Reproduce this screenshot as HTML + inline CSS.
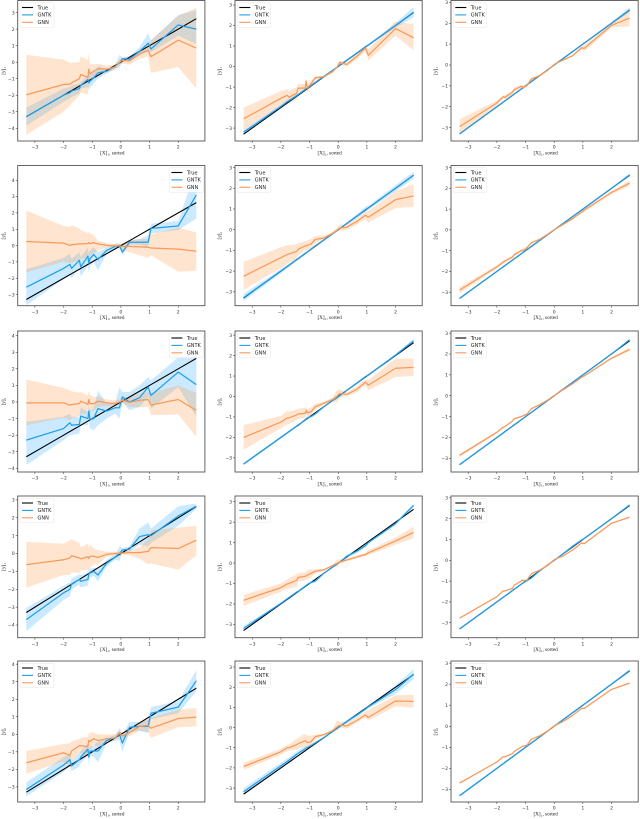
<!DOCTYPE html>
<html lang="en">
<head>
<meta charset="utf-8">
<title>GNTK vs GNN predictions</title>
<style>
html,body{margin:0;padding:0;background:#fff;}
#figure{position:absolute;left:0;top:0;width:640px;height:819px;display:block;filter:blur(0.25px);}
</style>
</head>
<body>
<svg id="figure" xmlns="http://www.w3.org/2000/svg" width="640" height="819" viewBox="0 0 640 819"></svg>
<script>
const xKnots = [-3.3,-2,-1.78,-1.72,-1.45,-1.4,-1.15,-1.12,-1.08,-0.95,-0.8,-0.5,-0.2,-0.05,0.05,0.3,0.65,0.95,1.05,2,2.63];
const trueValues = [-3.3,-2,-1.78,-1.72,-1.45,-1.4,-1.15,-1.12,-1.08,-0.95,-0.8,-0.5,-0.2,-0.05,0.05,0.3,0.65,0.95,1.05,2,2.63];
const xTickValues = [-3,-2,-1,0,1,2];
const yTickValues = [-4,-3,-2,-1,0,1,2,3,4];
const legendLabels = ["True","GNTK","GNN"];
const xMin = -3.6;
const xMax = 2.93;
const yMinByPanel = [[-4.77,-3.63,-3.64],[-3.68,-3.67,-3.65],[-4.22,-3.69,-3.65],[-4.71,-3.65,-3.72],[-3.86,-3.69,-3.6]];
const yMaxByPanel = [[3.73,3.22,3.09],[4.9,3.1,3.1],[4.28,3.2,3.1],[3.22,3.28,3.09],[4.18,3.3,3.1]];

/* Row 1 */
const gnnMean11 = [-1.97,-1.35,-1.33,-1.25,-1,-0.75,-0.92,-0.42,-0.7,-0.55,-0.4,-0.42,-0.3,0,0.1,0.08,0.5,0.72,0.33,1.33,0.85];
const gnnHigh11 = [0.45,0.15,-0.05,-0.03,0,0.35,0.1,0.55,-0.1,-0.15,-0.1,-0.2,-0.15,0.15,0.3,0.3,0.75,1.1,1.35,2.8,3.3];
const gnnLow11 = [-4.4,-3,-2.65,-2.5,-2,-1.85,-1.95,-1.4,-1.3,-1,-0.7,-0.65,-0.45,-0.15,-0.1,-0.15,0.2,0.35,-0.65,-0.3,-1.6];
const gntkMean11 = [-3.3,-2,-1.85,-1.75,-1.6,-1.4,-1.05,-1.25,-1.15,-0.95,-0.65,-0.55,-0.25,-0.05,0.2,0.18,0.65,1.15,0.8,2.25,2];
const gntkHigh11 = [-2.75,-1.6,-1.5,-1.4,-1.3,-1.2,-0.8,-0.75,-0.75,-0.6,-0.25,-0.4,-0.15,0.45,0.3,0.35,0.9,1.75,1.3,2.85,3.15];
const gntkLow11 = [-3.85,-2.4,-2.2,-2.1,-1.9,-1.6,-1.5,-1.65,-1.55,-1.3,-1,-0.7,-0.4,-0.35,0.1,0.05,0.4,0.7,0.6,1.6,1.1];

const gnnMean12 = [-2.55,-1.55,-1.4,-1.5,-1.3,-1.05,-1.05,-0.7,-1.05,-0.85,-0.55,-0.5,-0.25,-0.05,0.2,0.1,0.5,0.9,0.55,1.85,1.4];
const gnnHigh12 = [-2,-1.2,-1.1,-1.2,-1,-0.85,-0.85,-0.55,-0.85,-0.7,-0.45,-0.45,-0.2,0,0.3,0.2,0.65,1.05,0.85,2.2,2.05];
const gnnLow12 = [-3.1,-1.9,-1.7,-1.8,-1.6,-1.25,-1.25,-0.85,-1.25,-1,-0.65,-0.55,-0.3,-0.1,0.1,0,0.35,0.75,0.3,1.5,0.8];
const gntkMean12 = [-3.2,-1.95,-1.72,-1.67,-1.42,-1.37,-1.12,-1.09,-1.05,-0.93,-0.78,-0.48,-0.19,-0.04,0.06,0.31,0.66,0.96,1.05,2,2.65];
const gntkHigh12 = [-3.1,-1.85,-1.62,-1.57,-1.35,-1.3,-1.05,-1.02,-0.98,-0.86,-0.73,-0.44,-0.16,-0.01,0.09,0.34,0.7,1,1.1,2.12,2.9];
const gntkLow12 = [-3.3,-2.05,-1.82,-1.77,-1.5,-1.45,-1.2,-1.16,-1.12,-1,-0.83,-0.52,-0.22,-0.07,0.03,0.28,0.62,0.92,1,1.9,2.4];

const gnnMean13 = [-2.95,-1.82,-1.52,-1.55,-1.3,-1.18,-1.02,-1.02,-1.08,-0.98,-0.68,-0.5,-0.22,-0.03,0.07,0.23,0.45,0.82,0.8,1.9,2.25];
const gnnHigh13 = [-2.6,-1.7,-1.45,-1.45,-1.2,-1.08,-0.95,-0.93,-1,-0.9,-0.6,-0.45,-0.18,0,0.1,0.27,0.5,0.9,0.95,2,2.65];
const gnnLow13 = [-3.3,-1.94,-1.6,-1.65,-1.4,-1.28,-1.1,-1.1,-1.16,-1.06,-0.76,-0.55,-0.26,-0.06,0.04,0.19,0.4,0.74,0.65,1.8,1.85];
const gntkMean13 = [-3.3,-2,-1.78,-1.72,-1.45,-1.4,-1.15,-1.12,-1.08,-0.95,-0.8,-0.5,-0.2,-0.05,0.05,0.3,0.65,0.95,1.05,2,2.65];
const gntkHigh13 = [-3.27,-1.97,-1.75,-1.69,-1.42,-1.37,-1.12,-1.09,-1.05,-0.92,-0.77,-0.47,-0.18,-0.03,0.07,0.32,0.67,0.98,1.08,2.05,2.78];
const gntkLow13 = [-3.33,-2.03,-1.81,-1.75,-1.48,-1.43,-1.18,-1.15,-1.11,-0.98,-0.83,-0.53,-0.22,-0.07,0.03,0.28,0.63,0.92,1.02,1.95,2.52];

/* Row 2 */
const gnnMean21 = [0.25,0.15,0,0.05,0.1,0.1,0.12,0.18,0.12,0.18,0.1,0.02,-0.02,-0.02,-0.05,-0.05,-0.08,-0.1,-0.15,-0.22,-0.35];
const gnnHigh21 = [2.15,1.2,1.15,1.25,1.05,0.95,0.75,0.85,0.75,0.65,0.3,0.15,0.1,0.1,0.15,0.35,0.4,0.4,0.7,1.1,0.8];
const gnnLow21 = [-1.65,-1,-1.1,-1.05,-0.9,-0.8,-0.75,-0.6,-0.6,-0.5,-0.3,-0.1,-0.1,-0.15,-0.3,-0.4,-0.6,-0.75,-0.6,-1.6,-1.55];
const gntkMean21 = [-2.55,-1.4,-1.15,-1.4,-0.9,-1.3,-0.65,-1.1,-0.8,-0.55,-0.85,-0.3,-0.05,0,-0.4,0.2,0.2,0.2,1.05,1.2,3.1];
const gntkHigh21 = [-1.45,-0.75,-0.5,-0.8,-0.4,-0.7,-0.1,-0.5,-0.3,-0.1,-0.4,-0.1,0.1,0.15,0,0.3,0.4,0.6,1.35,1.5,4.7];
const gntkLow21 = [-3.65,-2.05,-1.8,-2,-1.4,-1.9,-1.2,-1.7,-1.3,-1,-1.5,-0.5,-0.2,-0.15,-0.6,0.05,0.05,-0.1,0.75,0.95,1.65];

const gnnMean22 = [-2.25,-1.35,-1.2,-1.17,-1.05,-0.95,-0.78,-0.78,-0.75,-0.7,-0.47,-0.4,-0.18,-0.03,0.08,0.12,0.4,0.7,0.6,1.45,1.63];
const gnnHigh22 = [-1.55,-0.85,-0.75,-0.75,-0.7,-0.65,-0.55,-0.55,-0.52,-0.45,-0.3,-0.3,-0.1,0.08,0.25,0.25,0.55,0.85,0.9,1.85,2.2];
const gnnLow22 = [-2.9,-1.85,-1.65,-1.6,-1.4,-1.25,-1,-1,-0.98,-0.95,-0.65,-0.5,-0.25,-0.12,-0.05,0,0.25,0.5,0.35,1.05,1.1];
const gntkMean22 = [-3.28,-2,-1.78,-1.72,-1.45,-1.4,-1.14,-1.12,-1.08,-0.95,-0.78,-0.5,-0.2,-0.05,0.05,0.3,0.65,0.97,1.05,2,2.63];
const gntkHigh22 = [-3.1,-1.9,-1.7,-1.64,-1.38,-1.33,-1.08,-1.06,-1.03,-0.9,-0.74,-0.47,-0.18,-0.03,0.08,0.35,0.75,1.1,1.15,2.15,2.8];
const gntkLow22 = [-3.45,-2.1,-1.86,-1.8,-1.52,-1.47,-1.2,-1.18,-1.13,-1,-0.82,-0.53,-0.22,-0.07,0.02,0.25,0.55,0.85,0.95,1.85,2.45];

const gnnMean23 = [-2.9,-1.78,-1.55,-1.5,-1.3,-1.2,-1,-0.98,-1,-0.85,-0.62,-0.45,-0.18,-0.04,0.05,0.25,0.55,0.85,0.95,1.8,2.25];
const gnnHigh23 = [-2.75,-1.7,-1.47,-1.42,-1.22,-1.12,-0.94,-0.92,-0.94,-0.8,-0.58,-0.42,-0.16,-0.02,0.07,0.28,0.6,0.9,1.02,1.88,2.38];
const gnnLow23 = [-3.05,-1.86,-1.63,-1.58,-1.38,-1.28,-1.06,-1.04,-1.06,-0.9,-0.66,-0.48,-0.2,-0.06,0.03,0.22,0.5,0.8,0.88,1.72,2.12];
const gntkMean23 = [-3.3,-2,-1.78,-1.72,-1.45,-1.4,-1.15,-1.12,-1.08,-0.95,-0.8,-0.5,-0.2,-0.05,0.05,0.3,0.65,0.95,1.05,2,2.65];
const gntkHigh23 = [-3.27,-1.97,-1.75,-1.69,-1.42,-1.37,-1.12,-1.09,-1.05,-0.92,-0.77,-0.47,-0.18,-0.03,0.07,0.32,0.67,0.98,1.08,2.04,2.72];
const gntkLow23 = [-3.33,-2.03,-1.81,-1.75,-1.48,-1.43,-1.18,-1.15,-1.11,-0.98,-0.83,-0.53,-0.22,-0.07,0.03,0.28,0.63,0.92,1.02,1.96,2.58];

/* Row 3 */
const gnnMean31 = [-0.05,-0.05,-0.2,-0.15,-0.1,0.05,-0.15,0.15,-0.1,-0.1,0.05,-0.05,-0.1,0,0.1,-0.02,0.1,0.15,-0.18,0.15,-0.5];
const gnnHigh31 = [1.35,0.85,0.7,0.65,0.55,0.6,0.4,0.7,0.45,0.3,0.35,0.15,0.1,0.15,0.35,0.3,0.5,0.6,0.55,1,0.55];
const gnnLow31 = [-1.4,-0.95,-1.1,-1,-0.85,-0.7,-0.7,-0.4,-0.6,-0.5,-0.3,-0.25,-0.3,-0.2,-0.1,-0.3,-0.3,-0.3,-0.8,-0.75,-2.1];
const gntkMean31 = [-2.3,-1.6,-1.25,-1.4,-1.35,-0.85,-1,-0.55,-1.05,-1,-0.4,-0.55,-0.35,-0.35,0.3,0,0.25,0.9,0.4,1.8,1.05];
const gntkHigh31 = [-1.2,-0.9,-0.7,-0.9,-0.9,-0.3,-0.6,-0.2,-0.5,-0.4,0.7,-0.1,0,0.9,0.6,0.6,1,1.5,1.3,2.7,3];
const gntkLow31 = [-3.8,-2.3,-2,-2,-1.9,-1.4,-1.4,-1,-1.6,-1.7,-1.4,-1,-0.7,-1,0,-0.5,-0.3,0.3,-0.4,0.9,-0.9];

const gnnMean32 = [-2,-1.25,-1.05,-1.05,-0.9,-0.85,-0.82,-0.68,-0.8,-0.75,-0.5,-0.33,-0.15,0,0.15,0.1,0.35,0.7,0.55,1.38,1.42];
const gnnHigh32 = [-1.4,-0.95,-0.7,-0.75,-0.65,-0.6,-0.55,-0.5,-0.6,-0.55,-0.35,-0.25,-0.05,0.3,0.35,0.2,0.5,0.85,0.8,1.85,1.85];
const gnnLow32 = [-2.6,-1.55,-1.35,-1.35,-1.15,-1.1,-1.05,-0.9,-1,-0.95,-0.65,-0.4,-0.25,-0.3,-0.05,0,0.2,0.55,0.3,0.95,1];
const gntkMean32 = [-3.3,-2,-1.78,-1.72,-1.45,-1.42,-1.13,-1.1,-1.05,-0.98,-0.85,-0.5,-0.2,-0.07,0.03,0.3,0.65,0.97,1.05,2.02,2.72];
const gntkHigh32 = [-3.25,-1.95,-1.73,-1.67,-1.4,-1.37,-1.08,-1.05,-1,-0.92,-0.78,-0.47,-0.17,-0.02,0.07,0.34,0.7,1.02,1.1,2.08,2.82];
const gntkLow32 = [-3.35,-2.05,-1.83,-1.77,-1.5,-1.47,-1.18,-1.15,-1.1,-1.04,-0.92,-0.53,-0.23,-0.12,-0.01,0.26,0.6,0.92,1,1.96,2.62];

const gnnMean33 = [-2.85,-1.75,-1.5,-1.48,-1.2,-1.1,-1,-0.98,-0.95,-0.88,-0.62,-0.42,-0.18,-0.03,0.05,0.28,0.58,0.88,0.95,1.8,2.22];
const gnnHigh33 = [-2.78,-1.7,-1.46,-1.44,-1.16,-1.06,-0.96,-0.94,-0.91,-0.84,-0.59,-0.4,-0.16,-0.01,0.07,0.3,0.61,0.91,0.99,1.85,2.3];
const gnnLow33 = [-2.92,-1.8,-1.54,-1.52,-1.24,-1.14,-1.04,-1.02,-0.99,-0.92,-0.65,-0.44,-0.2,-0.05,0.03,0.26,0.55,0.85,0.91,1.75,2.14];
const gntkMean33 = [-3.3,-2,-1.78,-1.72,-1.45,-1.4,-1.15,-1.12,-1.08,-0.95,-0.8,-0.5,-0.2,-0.05,0.05,0.3,0.65,0.95,1.05,2,2.68];
const gntkHigh33 = [-3.27,-1.97,-1.75,-1.69,-1.42,-1.37,-1.12,-1.09,-1.05,-0.92,-0.77,-0.47,-0.18,-0.03,0.07,0.32,0.67,0.98,1.08,2.03,2.72];
const gntkLow33 = [-3.33,-2.03,-1.81,-1.75,-1.48,-1.43,-1.18,-1.15,-1.11,-0.98,-0.83,-0.53,-0.22,-0.07,0.03,0.28,0.63,0.92,1.02,1.97,2.64];

/* Row 4 */
const gnnMean41 = [-0.62,-0.35,-0.25,-0.12,-0.25,-0.3,-0.18,-0.28,-0.15,-0.15,-0.22,-0.05,0,0,0.03,0.05,0.05,0.12,0.33,0.28,0.75];
const gnnHigh41 = [0.65,0.55,0.75,0.8,0.6,0.35,0.55,0.3,0.5,0.3,0.2,0.1,0.1,0.1,0.15,0.2,0.35,0.8,1.3,1.45,1.55];
const gnnLow41 = [-1.9,-1.2,-1.2,-1.05,-1.1,-0.95,-0.9,-0.85,-0.8,-0.6,-0.6,-0.2,-0.1,-0.1,-0.05,-0.1,-0.3,-0.6,-0.55,-0.9,-0.1];
const gntkMean41 = [-3.7,-2.2,-2,-1.7,-1.45,-1.55,-1.45,-1.15,-1.1,-1,-1.2,-0.55,-0.2,0,0.2,0.25,0.95,1.05,1,2.1,2.65];
const gntkHigh41 = [-3.05,-1.8,-1.6,-1.4,-1.15,-1.2,-1.1,-0.8,-0.85,-0.8,-0.85,-0.35,-0.05,0.4,0.3,0.4,1.4,1.75,1.4,2.65,2.8];
const gntkLow41 = [-4.35,-2.6,-2.4,-2,-1.75,-1.9,-1.8,-1.5,-1.35,-1.25,-1.55,-0.75,-0.35,-0.4,0.05,0.1,0.5,0.4,0.6,1.55,2.5];

const gnnMean42 = [-1.82,-1.2,-1.02,-1,-0.85,-0.7,-0.65,-0.62,-0.6,-0.5,-0.4,-0.33,-0.13,-0.02,0.05,0.15,0.3,0.42,0.5,1.08,1.5];
const gnnHigh42 = [-1.55,-1,-0.8,-0.75,-0.55,-0.5,-0.45,-0.42,-0.35,-0.3,-0.3,-0.28,-0.08,0.15,0.18,0.22,0.37,0.5,0.62,1.25,1.78];
const gnnLow42 = [-2.1,-1.4,-1.25,-1.25,-1.15,-0.9,-0.85,-0.82,-0.8,-0.7,-0.5,-0.38,-0.18,-0.2,-0.05,0.08,0.23,0.33,0.38,0.9,1.22];
const gntkMean42 = [-3.2,-1.97,-1.75,-1.69,-1.42,-1.39,-1.13,-1.1,-1.05,-0.95,-0.88,-0.5,-0.2,-0.06,0.04,0.33,0.58,0.85,1,1.93,2.82];
const gntkHigh42 = [-3.08,-1.92,-1.7,-1.64,-1.37,-1.34,-1.08,-1.05,-1,-0.9,-0.8,-0.47,-0.17,-0.03,0.07,0.4,0.68,0.92,1.05,2,2.9];
const gntkLow42 = [-3.3,-2.02,-1.8,-1.74,-1.47,-1.44,-1.18,-1.15,-1.1,-1,-0.96,-0.53,-0.23,-0.09,0.01,0.26,0.48,0.78,0.95,1.86,2.74];

const gnnMean43 = [-2.78,-1.75,-1.47,-1.47,-1.35,-1.2,-1,-0.95,-0.98,-0.95,-0.65,-0.47,-0.22,-0.03,0.07,0.2,0.5,0.83,0.8,1.78,2.07];
const gnnHigh43 = [-2.74,-1.72,-1.44,-1.44,-1.32,-1.17,-0.97,-0.92,-0.95,-0.92,-0.62,-0.45,-0.2,-0.01,0.09,0.22,0.52,0.86,0.84,1.81,2.11];
const gnnLow43 = [-2.82,-1.78,-1.5,-1.5,-1.38,-1.23,-1.03,-0.98,-1.01,-0.98,-0.68,-0.49,-0.24,-0.05,0.05,0.18,0.48,0.8,0.76,1.75,2.03];
const gntkMean43 = [-3.3,-2,-1.78,-1.72,-1.45,-1.4,-1.15,-1.12,-1.08,-0.98,-0.85,-0.5,-0.2,-0.05,0.05,0.3,0.68,0.97,1.05,2,2.66];
const gntkHigh43 = [-3.26,-1.97,-1.75,-1.69,-1.42,-1.37,-1.12,-1.09,-1.05,-0.94,-0.8,-0.47,-0.18,-0.03,0.07,0.32,0.72,1,1.08,2.03,2.72];
const gntkLow43 = [-3.34,-2.03,-1.81,-1.75,-1.48,-1.43,-1.18,-1.15,-1.11,-1.02,-0.9,-0.53,-0.22,-0.07,0.03,0.28,0.64,0.94,1.02,1.97,2.6];

/* Row 5 */
const gnnMean51 = [-1.62,-1.05,-1.2,-0.95,-0.65,-0.65,-0.7,-0.35,-0.4,-0.25,-0.35,-0.25,-0.2,0.1,-0.1,0.1,0.45,0.5,0.35,0.9,0.98];
const gnnHigh51 = [-0.95,-0.55,-0.5,-0.4,-0.25,-0.2,-0.15,0.1,0.1,0.1,0,0,0,0.2,0.1,0.3,0.7,0.85,0.95,1.4,1.5];
const gnnLow51 = [-2.25,-1.55,-1.9,-1.5,-1.05,-1.1,-1.25,-0.8,-0.9,-0.6,-0.7,-0.5,-0.35,0,-0.25,-0.1,0.2,0.15,-0.2,0.4,0.45];
const gntkMean51 = [-3.15,-1.75,-1.45,-1.8,-1.45,-1.3,-0.85,-1.3,-0.95,-0.95,-0.95,-0.35,-0.2,0,-0.5,0.4,0.45,0.45,1.2,1.55,3.05];
const gntkHigh51 = [-2.75,-1.3,-1.1,-1.5,-1.05,-0.95,-0.5,-0.8,-0.65,-0.65,-0.4,-0.2,-0.05,0.35,0,0.7,0.7,0.85,1.55,1.9,3.65];
const gntkLow51 = [-3.55,-2.15,-1.8,-2.1,-1.85,-1.65,-1.2,-1.8,-1.25,-1.25,-1.6,-0.5,-0.35,-0.35,-1,0.1,0.2,0.05,0.85,1.2,2.45];

const gnnMean52 = [-1.93,-1.2,-1,-1,-0.85,-0.8,-0.65,-0.68,-0.75,-0.7,-0.45,-0.35,-0.15,0.02,0.12,0.08,0.35,0.63,0.5,1.32,1.3];
const gnnHigh52 = [-1.75,-1.05,-0.85,-0.85,-0.55,-0.5,-0.3,-0.35,-0.4,-0.4,-0.35,-0.3,-0.1,0.35,0.3,0.25,0.5,0.8,0.85,1.6,1.62];
const gnnLow52 = [-2.1,-1.35,-1.15,-1.15,-1.1,-1.05,-0.95,-1,-1.05,-0.95,-0.6,-0.42,-0.2,-0.15,0,-0.05,0.25,0.5,0.35,1.05,0.98];
const gntkMean52 = [-3.18,-1.9,-1.68,-1.62,-1.33,-1.28,-1.05,-1.02,-1,-0.9,-0.76,-0.5,-0.2,-0.05,0.05,0.3,0.62,0.92,1.03,1.88,2.65];
const gntkHigh52 = [-3,-1.75,-1.53,-1.48,-1.2,-1.15,-0.92,-0.9,-0.9,-0.82,-0.7,-0.45,-0.15,0,0.1,0.38,0.72,1,1.1,2.1,2.9];
const gntkLow52 = [-3.36,-2.05,-1.83,-1.76,-1.46,-1.41,-1.18,-1.14,-1.1,-0.98,-0.82,-0.55,-0.25,-0.1,0,0.22,0.52,0.84,0.96,1.66,2.4];

const gnnMean53 = [-2.7,-1.7,-1.45,-1.45,-1.3,-1.2,-1,-0.95,-0.95,-0.9,-0.62,-0.45,-0.2,-0.03,0.05,0.22,0.52,0.85,0.85,1.75,2.05];
const gnnHigh53 = [-2.66,-1.67,-1.42,-1.42,-1.27,-1.17,-0.97,-0.92,-0.92,-0.87,-0.6,-0.43,-0.18,-0.01,0.07,0.24,0.54,0.88,0.89,1.78,2.09];
const gnnLow53 = [-2.74,-1.73,-1.48,-1.48,-1.33,-1.23,-1.03,-0.98,-0.98,-0.93,-0.64,-0.47,-0.22,-0.05,0.03,0.2,0.5,0.82,0.81,1.72,2.01];
const gntkMean53 = [-3.3,-2,-1.78,-1.72,-1.45,-1.4,-1.15,-1.12,-1.08,-0.95,-0.8,-0.5,-0.2,-0.05,0.05,0.3,0.65,0.95,1.05,2,2.65];
const gntkHigh53 = [-3.27,-1.97,-1.75,-1.69,-1.42,-1.37,-1.12,-1.09,-1.05,-0.92,-0.77,-0.47,-0.18,-0.03,0.07,0.32,0.67,0.98,1.08,2.03,2.7];
const gntkLow53 = [-3.33,-2.03,-1.81,-1.75,-1.48,-1.43,-1.18,-1.15,-1.11,-0.98,-0.83,-0.53,-0.22,-0.07,0.03,0.28,0.63,0.92,1.02,1.97,2.6];

const panelSeries = [
  [[gntkMean11,gntkHigh11,gntkLow11,gnnMean11,gnnHigh11,gnnLow11],[gntkMean12,gntkHigh12,gntkLow12,gnnMean12,gnnHigh12,gnnLow12],[gntkMean13,gntkHigh13,gntkLow13,gnnMean13,gnnHigh13,gnnLow13]],
  [[gntkMean21,gntkHigh21,gntkLow21,gnnMean21,gnnHigh21,gnnLow21],[gntkMean22,gntkHigh22,gntkLow22,gnnMean22,gnnHigh22,gnnLow22],[gntkMean23,gntkHigh23,gntkLow23,gnnMean23,gnnHigh23,gnnLow23]],
  [[gntkMean31,gntkHigh31,gntkLow31,gnnMean31,gnnHigh31,gnnLow31],[gntkMean32,gntkHigh32,gntkLow32,gnnMean32,gnnHigh32,gnnLow32],[gntkMean33,gntkHigh33,gntkLow33,gnnMean33,gnnHigh33,gnnLow33]],
  [[gntkMean41,gntkHigh41,gntkLow41,gnnMean41,gnnHigh41,gnnLow41],[gntkMean42,gntkHigh42,gntkLow42,gnnMean42,gnnHigh42,gnnLow42],[gntkMean43,gntkHigh43,gntkLow43,gnnMean43,gnnHigh43,gnnLow43]],
  [[gntkMean51,gntkHigh51,gntkLow51,gnnMean51,gnnHigh51,gnnLow51],[gntkMean52,gntkHigh52,gntkLow52,gnnMean52,gnnHigh52,gnnLow52],[gntkMean53,gntkHigh53,gntkLow53,gnnMean53,gnnHigh53,gnnLow53]]
];

const NS = "http://www.w3.org/2000/svg";
const figure = document.getElementById("figure");
const layoutColLeft = [17.7,235,451];
const layoutRowTop = [0.5,165.5,331,496,661];
const layoutRowBottom = [141,305.7,472,637.7,802];
const yTitleOffset = [12.5,14,14];
const axisWidth = 187.2;
const colorTrue = "#000000";
const colorGntk = "#1f9eea";
const colorGnn = "#f9995a";
const bandGntk = "rgba(0,150,255,0.2)";
const bandGnn = "rgba(255,127,14,0.2)";
const tickColor = "#333333";
const sansFont = '"DejaVu Sans","Liberation Sans",sans-serif';
const serifFont = '"Liberation Serif","DejaVu Serif",serif';

function make(tag, attrs, parent) {
  const node = document.createElementNS(NS, tag);
  for (const key in attrs) node.setAttribute(key, attrs[key]);
  parent.appendChild(node);
  return node;
}
function linePath(xs, ys, sx, sy) {
  return xs.map((v, i) => (i ? "L" : "M") + sx(v).toFixed(2) + " " + sy(ys[i]).toFixed(2)).join("");
}
function bandPath(xs, hi, lo, sx, sy) {
  const top = xs.map((v, i) => (i ? "L" : "M") + sx(v).toFixed(2) + " " + sy(hi[i]).toFixed(2)).join("");
  const bottom = xs.map((v, i) => [v, lo[i]]).reverse().map(p => "L" + sx(p[0]).toFixed(2) + " " + sy(p[1]).toFixed(2)).join("");
  return top + bottom + "Z";
}
function tickText(v) {
  return v < 0 ? "\u2212" + Math.abs(v) : String(v);
}

panelSeries.forEach(function (rowPanels, r) {
  rowPanels.forEach(function (series, c) {
    const left = layoutColLeft[c];
    const right = left + axisWidth;
    const top = layoutRowTop[r];
    const bottom = layoutRowBottom[r];
    const yMin = yMinByPanel[r][c];
    const yMax = yMaxByPanel[r][c];
    const sx = v => left + (v - xMin) / (xMax - xMin) * axisWidth;
    const sy = v => bottom - (v - yMin) / (yMax - yMin) * (bottom - top);
    const tag = "r" + (r + 1) + "c" + (c + 1);
    const clipId = "clip-" + tag;

    const panel = make("g", {}, figure);
    
    

    const defs = make("defs", {}, panel);
    const clip = make("clipPath", {id: clipId}, defs);
    make("rect", {x: left, y: top, width: axisWidth, height: bottom - top}, clip);

    const plot = make("g", {"clip-path": "url(#" + clipId + ")"}, panel);
    
    

    const gntkBand = make("path", {d: bandPath(xKnots, series[1], series[2], sx, sy), fill: bandGntk, stroke: "none"}, plot);
    
    

    const gnnBand = make("path", {d: bandPath(xKnots, series[4], series[5], sx, sy), fill: bandGnn, stroke: "none"}, plot);
    
    

    const trueLine = make("path", {d: linePath(xKnots, trueValues, sx, sy), fill: "none", stroke: colorTrue, "stroke-width": 1.1}, plot);
    
    

    const gntkLine = make("path", {d: linePath(xKnots, series[0], sx, sy), fill: "none", stroke: colorGntk, "stroke-width": 1.25, "stroke-linejoin": "round"}, plot);
    
    

    const gnnLine = make("path", {d: linePath(xKnots, series[3], sx, sy), fill: "none", stroke: colorGnn, "stroke-width": 1.25, "stroke-linejoin": "round"}, plot);
    
    

    const frame = make("rect", {x: left, y: top, width: axisWidth, height: bottom - top, fill: "none", stroke: "#555555", "stroke-width": 0.9}, panel);
    
    

    xTickValues.forEach(function (v) {
      const px = sx(v);
      const mark = make("line", {x1: px, x2: px, y1: bottom, y2: bottom + 2, stroke: tickColor, "stroke-width": 0.5}, panel);
      
      
      const label = make("text", {x: px, y: bottom + 7.6, "text-anchor": "middle", "font-size": 4.6, "font-family": sansFont, fill: tickColor}, panel);
      
      
      label.textContent = tickText(v);
    });

    yTickValues.filter(v => v >= yMin && v <= yMax).forEach(function (v) {
      const py = sy(v);
      const mark = make("line", {x1: left - 2, x2: left, y1: py, y2: py, stroke: tickColor, "stroke-width": 0.5}, panel);
      
      
      const label = make("text", {x: left - 3, y: py + 1.7, "text-anchor": "end", "font-size": 4.6, "font-family": sansFont, fill: tickColor}, panel);
      
      
      label.textContent = tickText(v);
    });

    const xTitle = make("text", {x: (left + right) / 2 + 1, y: bottom + 13.5, "text-anchor": "middle", "font-size": 5.2, "font-family": serifFont, fill: "#222222"}, panel);
    
    
    xTitle.textContent = "[X]\u2081, sorted";

    const titleX = left - yTitleOffset[c];
    const titleY = (top + bottom) / 2;
    const yTitle = make("text", {x: titleX, y: titleY, transform: "rotate(-90 " + titleX + " " + titleY + ")", "text-anchor": "middle", "font-size": 5.2, "font-family": serifFont, fill: "#222222"}, panel);
    
    
    yTitle.textContent = "[y]\u2081";

    const onRight = c === 0 && (r === 1 || r === 2);
    const legendW = c === 0 ? 34 : 33;
    const legendX = onRight ? right - legendW - 1.5 : left + 2.3;
    const legendY = top + 2.3;
    const legend = make("g", {}, panel);
    
    
    const legendBox = make("rect", {x: legendX, y: legendY, width: legendW, height: 24.5, rx: 1, fill: "#ffffff", "fill-opacity": 0.85, stroke: "#dddddd", "stroke-width": 0.4}, legend);
    
    
    [colorTrue, colorGntk, colorGnn].forEach(function (color, i) {
      const ly = legendY + 4.7 + i * 7.4;
      const handle = make("line", {x1: legendX + 2, x2: legendX + 13, y1: ly, y2: ly, stroke: color, "stroke-width": 1.1}, legend);
      
      
      const entry = make("text", {x: legendX + 17.5, y: ly + 1.8, "font-size": 5, "font-family": sansFont, fill: "#222222"}, legend);
      
      
      entry.textContent = legendLabels[i];
    });
  });
});
</script>
</body>
</html>
